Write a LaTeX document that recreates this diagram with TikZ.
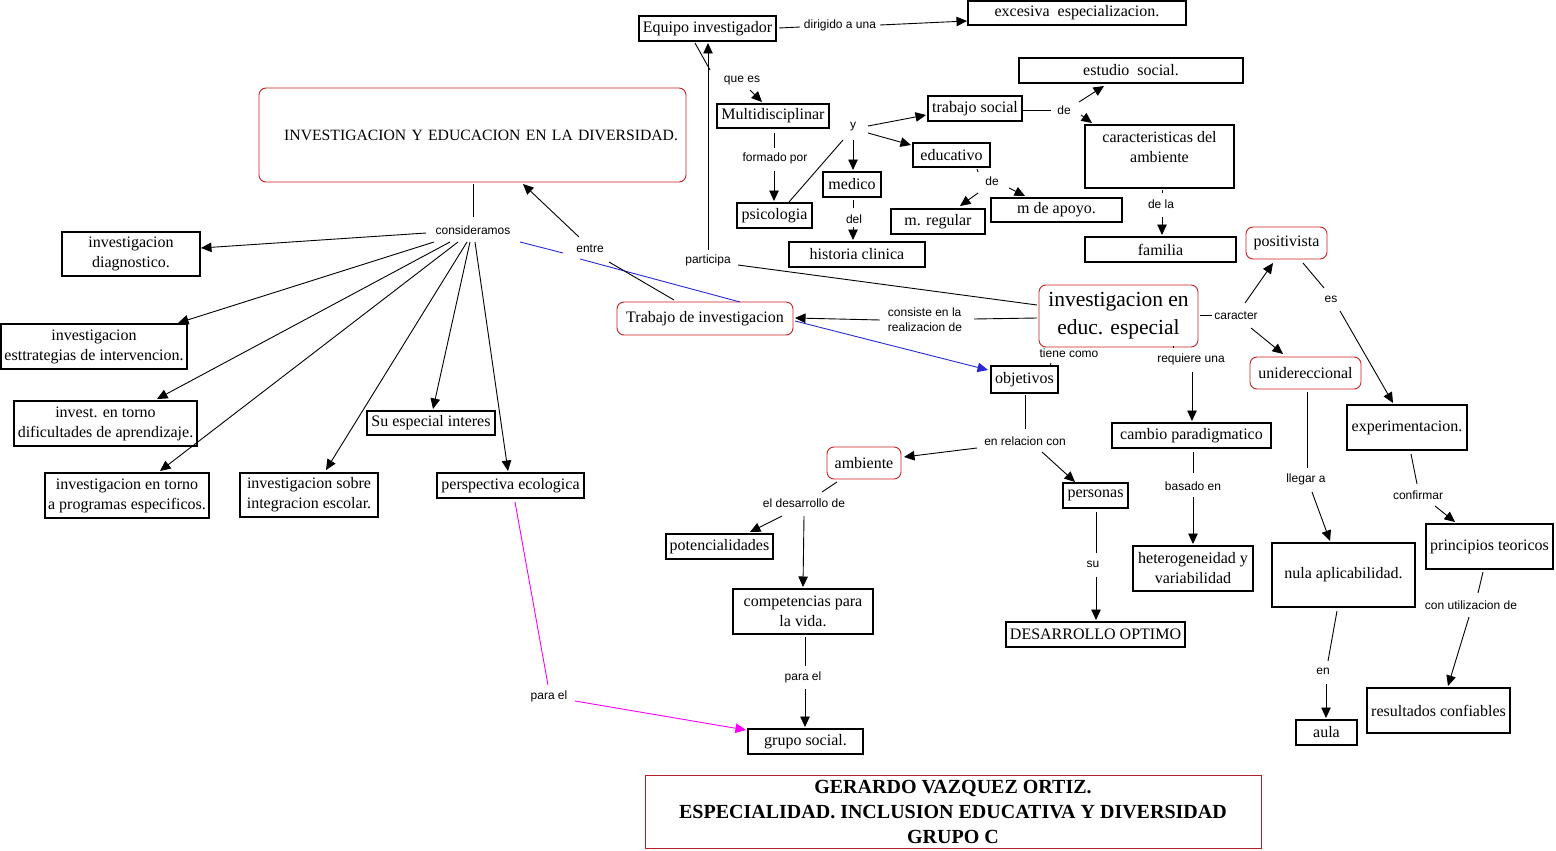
\documentclass[tikz,border=0pt]{standalone}
\usepackage{fontspec}
\setmainfont{Liberation Serif}
\setsansfont{Liberation Sans}
\usetikzlibrary{arrows.meta}
\definecolor{rbord}{RGB}{204,32,32}
\definecolor{abord}{RGB}{180,30,40}
\definecolor{bline}{RGB}{40,40,210}
\definecolor{mline}{RGB}{250,0,250}
\begin{document}
\begin{tikzpicture}[x=1pt,y=-1pt,
 bx/.style={draw=black,line width=1.2pt,inner sep=0pt,align=center,font=\fontsize{16}{20}\selectfont},
 rbx/.style={draw=rbord,line width=0.9pt,rounded corners=7pt,inner sep=0pt,align=center,font=\fontsize{16}{20}\selectfont},
 lbl/.style={inner sep=0pt,font=\sffamily\fontsize{12}{15}\selectfont},
 ln/.style={line width=0.9pt},
 arr/.style={line width=0.9pt,-{Triangle[length=10.5pt,width=9.5pt]}},
]
\useasboundingbox (0,0) rectangle (1556,851);
% ---------- boxes ----------
\node[rbx,text width=411pt,align=right,inner xsep=8pt,minimum height=94pt,font=\fontsize{15.7}{20}\selectfont] (titl) at (472.5,135) {INVESTIGACION Y EDUCACION EN LA DIVERSIDAD.};
\node[bx,minimum width=137pt,minimum height=25pt] (eq) at (707.5,28.5) {Equipo investigador};
\node[bx,minimum width=218pt,minimum height=24pt] (exc) at (1077,13) {excesiva~ especializacion.};
\node[bx,minimum width=112pt,minimum height=24pt] (mult) at (773,116) {Multidisciplinar};
\node[bx,minimum width=75pt,minimum height=25pt] (psic) at (774.5,215.5) {psicologia};
\node[bx,minimum width=58pt,minimum height=25pt] (med) at (852,184.5) {medico};
\node[bx,minimum width=136pt,minimum height=25pt] (hist) at (857,254.5) {historia clinica};
\node[bx,minimum width=94pt,minimum height=25pt] (trab) at (975,108.5) {trabajo social};
\node[bx,minimum width=77pt,minimum height=24pt] (educ) at (951.5,155) {educativo};
\node[bx,minimum width=94pt,minimum height=25pt] (mreg) at (938,221.5) {m. regular};
\node[bx,minimum width=131pt,minimum height=24pt] (mapo) at (1056.5,210) {m de apoyo.};
\node[bx,minimum width=224pt,minimum height=25pt] (estu) at (1131,70.5) {estudio~ social.};
\node[bx,minimum width=149pt,minimum height=63pt] (cara) at (1159.5,156.5) {caracteristicas del\\ambiente\\~};
\node[bx,minimum width=151pt,minimum height=25pt] (fam) at (1160.5,249.5) {familia};
\node[rbx,minimum width=81pt,minimum height=32pt] (posi) at (1286.5,243) {positivista};
\node[rbx,minimum width=159pt,minimum height=62pt,font=\fontsize{21.5}{28}\selectfont] (ied) at (1118.5,316) {investigacion en\\educ. especial};
\node[rbx,minimum width=176pt,minimum height=33pt] (tdi) at (705,318.5) {Trabajo de investigacion};
\node[bx,minimum width=67pt,minimum height=27pt] (obj) at (1024.5,379.5) {objetivos};
\node[rbx,minimum width=111pt,minimum height=32pt] (uni) at (1305.5,373) {unidereccional};
\node[bx,minimum width=159pt,minimum height=25pt] (camb) at (1191.5,435.5) {cambio paradigmatico};
\node[bx,minimum width=120pt,minimum height=45pt] (expe) at (1407,427.5) {experimentacion.};
\node[bx,minimum width=127pt,minimum height=45pt] (prin) at (1489.5,546.5) {principios teoricos};
\node[bx,minimum width=143pt,minimum height=64pt] (nula) at (1343.5,575) {nula aplicabilidad.};
\node[bx,minimum width=143pt,minimum height=45pt] (resu) at (1438.5,710.5) {resultados confiables};
\node[bx,minimum width=61pt,minimum height=25pt] (aula) at (1326.5,732.5) {aula};
\node[bx,minimum width=120pt,minimum height=45pt] (hete) at (1193,568.5) {heterogeneidad y\\variabilidad};
\node[bx,minimum width=65pt,minimum height=25pt] (pers) at (1095.5,495.5) {personas};
\node[bx,minimum width=179pt,minimum height=25pt] (desa) at (1095.5,634.5) {DESARROLLO OPTIMO};
\node[rbx,minimum width=74pt,minimum height=32pt] (ambi) at (864,463) {ambiente};
\node[bx,minimum width=107pt,minimum height=25pt] (pote) at (719.5,546.5) {potencialidades};
\node[bx,minimum width=140pt,minimum height=45pt] (comp) at (803,611.5) {competencias para\\la vida.};
\node[bx,minimum width=115pt,minimum height=25pt] (grup) at (805.5,741.5) {grupo social.};
\node[bx,minimum width=147pt,minimum height=25pt] (pers2) at (510.5,485.5) {perspectiva ecologica};
\node[bx,minimum width=138pt,minimum height=44pt] (inte) at (309,495) {investigacion sobre\\integracion escolar.};
\node[bx,minimum width=164pt,minimum height=45pt] (prog) at (127,495.5) {investigacion en torno\\a programas especificos.};
\node[bx,minimum width=183pt,minimum height=45pt] (difi) at (105.5,423.5) {invest. en torno\\dificultades de aprendizaje.};
\node[bx,minimum width=186pt,minimum height=45pt] (estr) at (94,346.5) {investigacion\\esttrategias de intervencion.};
\node[bx,minimum width=138pt,minimum height=44pt] (diag) at (131,254) {investigacion\\diagnostico.};
\node[bx,minimum width=128pt,minimum height=24pt] (suin) at (431,423) {Su especial interes};
\node[draw=abord,line width=1pt,inner sep=0pt,align=center,minimum width=616pt,minimum height=73pt,font=\bfseries\fontsize{20}{25}\selectfont] (auth) at (953,811.5) {GERARDO VAZQUEZ ORTIZ.\\ESPECIALIDAD. INCLUSION EDUCATIVA Y DIVERSIDAD\\GRUPO C};
% ---------- labels ----------
\node[lbl] (ldir) at (840,25) {dirigido a una};
\node[lbl] (lquees) at (742,81) {que es};
\node[lbl] (lform) at (775,158) {formado por};
\node[lbl] (ly) at (853,127) {y};
\node[lbl] (lde1) at (1064,110) {de};
\node[lbl] (lde2) at (992,181) {de};
\node[lbl] (ldel) at (854,219) {del};
\node[lbl] (ldela) at (1161,204) {de la};
\node[lbl] (lpart) at (708,260) {participa};
\node[lbl] (lcons) at (473,230) {consideramos};
\node[lbl] (lentre) at (590,249) {entre};
\node[lbl,align=left] (lconsi) at (925,320) {consiste en la\\realizacion de};
\node[lbl] (lcar) at (1236,316) {caracter};
\node[lbl] (ltiene) at (1069,353) {tiene como};
\node[lbl] (lreq) at (1191,359) {requiere una};
\node[lbl] (les) at (1331,299) {es};
\node[lbl] (llleg) at (1306,479) {llegar a};
\node[lbl] (lconf) at (1418,495) {confirmar};
\node[lbl] (lconu) at (1471,605) {con utilizacion de};
\node[lbl] (len) at (1323,671) {en};
\node[lbl] (lrel) at (1025,441) {en relacion con};
\node[lbl] (ldesde) at (804,503) {el desarrollo de};
\node[lbl] (lbas) at (1193,486) {basado en};
\node[lbl] (lsu) at (1093,564) {su};
\node[lbl] (lparaa) at (803,677) {para el};
\node[lbl] (lparab) at (549,696) {para el};
% ---------- connectors ----------
\draw[ln] ([shift={(71.5,-0.5)}]eq.center) -- ([shift={(-40,2)}]ldir.center);
\draw[arr] ([shift={(40,0)}]ldir.center) -- ([shift={(-110,8)}]exc.center);
\draw[ln] ([shift={(-12.5,14.5)}]eq.center) -- ([shift={(-32,-11)}]lquees.center);
\draw[arr] ([shift={(8,9)}]lquees.center) -- ([shift={(-11,-14)}]mult.center);
\draw[ln] ([shift={(1,17)}]mult.center) -- ([shift={(-1,-10)}]lform.center);
\draw[arr] ([shift={(-1,13)}]lform.center) -- ([shift={(-0.5,-14.5)}]psic.center);
\draw[ln] ([shift={(14.5,-13.5)}]psic.center) -- ([shift={(-10,13)}]ly.center);
\draw[arr] ([shift={(15,-1)}]ly.center) -- ([shift={(-49,6.5)}]trab.center);
\draw[arr] ([shift={(15,6)}]ly.center) -- ([shift={(-40.5,-10)}]educ.center);
\draw[arr] ([shift={(0,13)}]ly.center) -- ([shift={(1,-14.5)}]med.center);
\draw[ln] ([shift={(1,15.5)}]med.center) -- ([shift={(-1,-11)}]ldel.center);
\draw[arr] ([shift={(-1,8)}]ldel.center) -- ([shift={(-4,-14.5)}]hist.center);
\draw[ln] ([shift={(47,1.5)}]trab.center) -- ([shift={(-13,0)}]lde1.center);
\draw[arr] ([shift={(15,-8)}]lde1.center) -- ([shift={(-27,15.5)}]estu.center);
\draw[arr] ([shift={(17,5)}]lde1.center) -- ([shift={(-67.5,-33.5)}]cara.center);
\draw[ln] ([shift={(25.5,14)}]educ.center) -- ([shift={(-14,-9)}]lde2.center);
\draw[arr] ([shift={(-14,12)}]lde2.center) -- ([shift={(22,-15.5)}]mreg.center);
\draw[arr] ([shift={(17,7)}]lde2.center) -- ([shift={(-31.5,-14)}]mapo.center);
\draw[ln] ([shift={(2.5,33.5)}]cara.center) -- ([shift={(1,-11)}]ldela.center);
\draw[arr] ([shift={(1,13)}]ldela.center) -- ([shift={(1.5,-14.5)}]fam.center);
\draw[ln] ([shift={(-81.5,-11)}]ied.center) -- ([shift={(30,5)}]lpart.center);
\draw[arr] ([shift={(0,-10)}]lpart.center) -- ([shift={(0.5,14.5)}]eq.center);
\draw[ln] ([shift={(-81.5,2)}]ied.center) -- ([shift={(49,-1)}]lconsi.center);
\draw[arr] ([shift={(-45,0)}]lconsi.center) -- ([shift={(90,-0.5)}]tdi.center);
\draw[arr,bline] ([shift={(90,2.5)}]tdi.center) -- ([shift={(-36.5,-9.5)}]obj.center);
\draw[ln,bline] ([shift={(47,12)}]lcons.center) -- ([shift={(-27,4)}]lentre.center)
  ([shift={(-10,10)}]lentre.center) -- ([shift={(35,-16.5)}]tdi.center);
\draw[ln] ([shift={(-31,-18.5)}]tdi.center) -- ([shift={(19,13)}]lentre.center);
\draw[arr] ([shift={(-11,-12)}]lentre.center) -- ([shift={(50.5,49)}]titl.center);
\draw[ln] ([shift={(0.5,49)}]titl.center) -- ([shift={(0,-13)}]lcons.center);
\draw[arr] ([shift={(-47,3)}]lcons.center) -- ([shift={(70,-6)}]diag.center);
\draw[arr] ([shift={(-39,12)}]lcons.center) -- ([shift={(84,-23.5)}]estr.center);
\draw[arr] ([shift={(-23,12)}]lcons.center) -- ([shift={(51.5,-24.5)}]difi.center);
\draw[arr] ([shift={(-15,12)}]lcons.center) -- ([shift={(33,-24.5)}]prog.center);
\draw[arr] ([shift={(-6,12)}]lcons.center) -- ([shift={(17,-25)}]inte.center);
\draw[arr] ([shift={(-3,12)}]lcons.center) -- ([shift={(2,-14)}]suin.center);
\draw[arr] ([shift={(2,12)}]lcons.center) -- ([shift={(-2.5,-14.5)}]pers2.center);
\draw[ln] ([shift={(81.5,-1)}]ied.center) -- ([shift={(-24,-1)}]lcar.center);
\draw[arr] ([shift={(9,-13)}]lcar.center) -- ([shift={(-13.5,20)}]posi.center);
\draw[arr] ([shift={(15,12)}]lcar.center) -- ([shift={(-22.5,-19)}]uni.center);
\draw[ln] ([shift={(16.5,20)}]posi.center) -- ([shift={(-7,-11)}]les.center);
\draw[arr] ([shift={(9,12)}]les.center) -- ([shift={(-14,-24.5)}]expe.center);
\draw[ln] ([shift={(1.5,19)}]uni.center) -- ([shift={(1,-11)}]llleg.center);
\draw[arr] ([shift={(6,13)}]llleg.center) -- ([shift={(-13.5,-34)}]nula.center);
\draw[ln] ([shift={(4,26.5)}]expe.center) -- ([shift={(-1,-11)}]lconf.center);
\draw[arr] ([shift={(17,11)}]lconf.center) -- ([shift={(-34.5,-24.5)}]prin.center);
\draw[ln] ([shift={(-6.5,25.5)}]prin.center) -- ([shift={(7,-12)}]lconu.center);
\draw[arr] ([shift={(-2,12)}]lconu.center) -- ([shift={(9.5,-24.5)}]resu.center);
\draw[ln] ([shift={(-6.5,36)}]nula.center) -- ([shift={(5,-10)}]len.center);
\draw[arr] ([shift={(3,13)}]len.center) -- ([shift={(-0.5,-14.5)}]aula.center);
\draw[ln] ([shift={(-18,10)}]ltiene.center) -- ([shift={(25.5,-13.5)}]obj.center);
\draw[ln] ([shift={(54.5,30)}]ied.center) -- ([shift={(-18,-11)}]lreq.center);
\draw[arr] ([shift={(1,13)}]lreq.center) -- ([shift={(0.5,-14.5)}]camb.center);
\draw[ln] ([shift={(1.5,16.5)}]camb.center) -- ([shift={(0,-13)}]lbas.center);
\draw[arr] ([shift={(0,11)}]lbas.center) -- ([shift={(0,-24.5)}]hete.center);
\draw[ln] ([shift={(0.5,15.5)}]obj.center) -- ([shift={(0,-12)}]lrel.center);
\draw[arr] ([shift={(-48,7)}]lrel.center) -- ([shift={(40,-6)}]ambi.center);
\draw[arr] ([shift={(17,11)}]lrel.center) -- ([shift={(-20.5,-13.5)}]pers.center);
\draw[ln] ([shift={(0.5,16.5)}]pers.center) -- ([shift={(3,-11)}]lsu.center);
\draw[arr] ([shift={(3,13)}]lsu.center) -- ([shift={(0.5,-14.5)}]desa.center);
\draw[ln] ([shift={(-27,19)}]ambi.center) -- ([shift={(18,-11)}]ldesde.center);
\draw[arr] ([shift={(-22,13)}]ldesde.center) -- ([shift={(30.5,-14.5)}]pote.center);
\draw[arr] ([shift={(0,13)}]ldesde.center) -- ([shift={(0,-24.5)}]comp.center);
\draw[ln] ([shift={(2,25.5)}]comp.center) -- ([shift={(2,-11)}]lparaa.center);
\draw[arr] ([shift={(2,12)}]lparaa.center) -- ([shift={(-0.5,-14.5)}]grup.center);
\draw[ln,mline] ([shift={(4.5,16.5)}]pers2.center) -- ([shift={(-1,-11)}]lparab.center);
\draw[arr,mline] ([shift={(26,5)}]lparab.center) -- ([shift={(-59.5,-11.5)}]grup.center);
\end{tikzpicture}
\end{document}
